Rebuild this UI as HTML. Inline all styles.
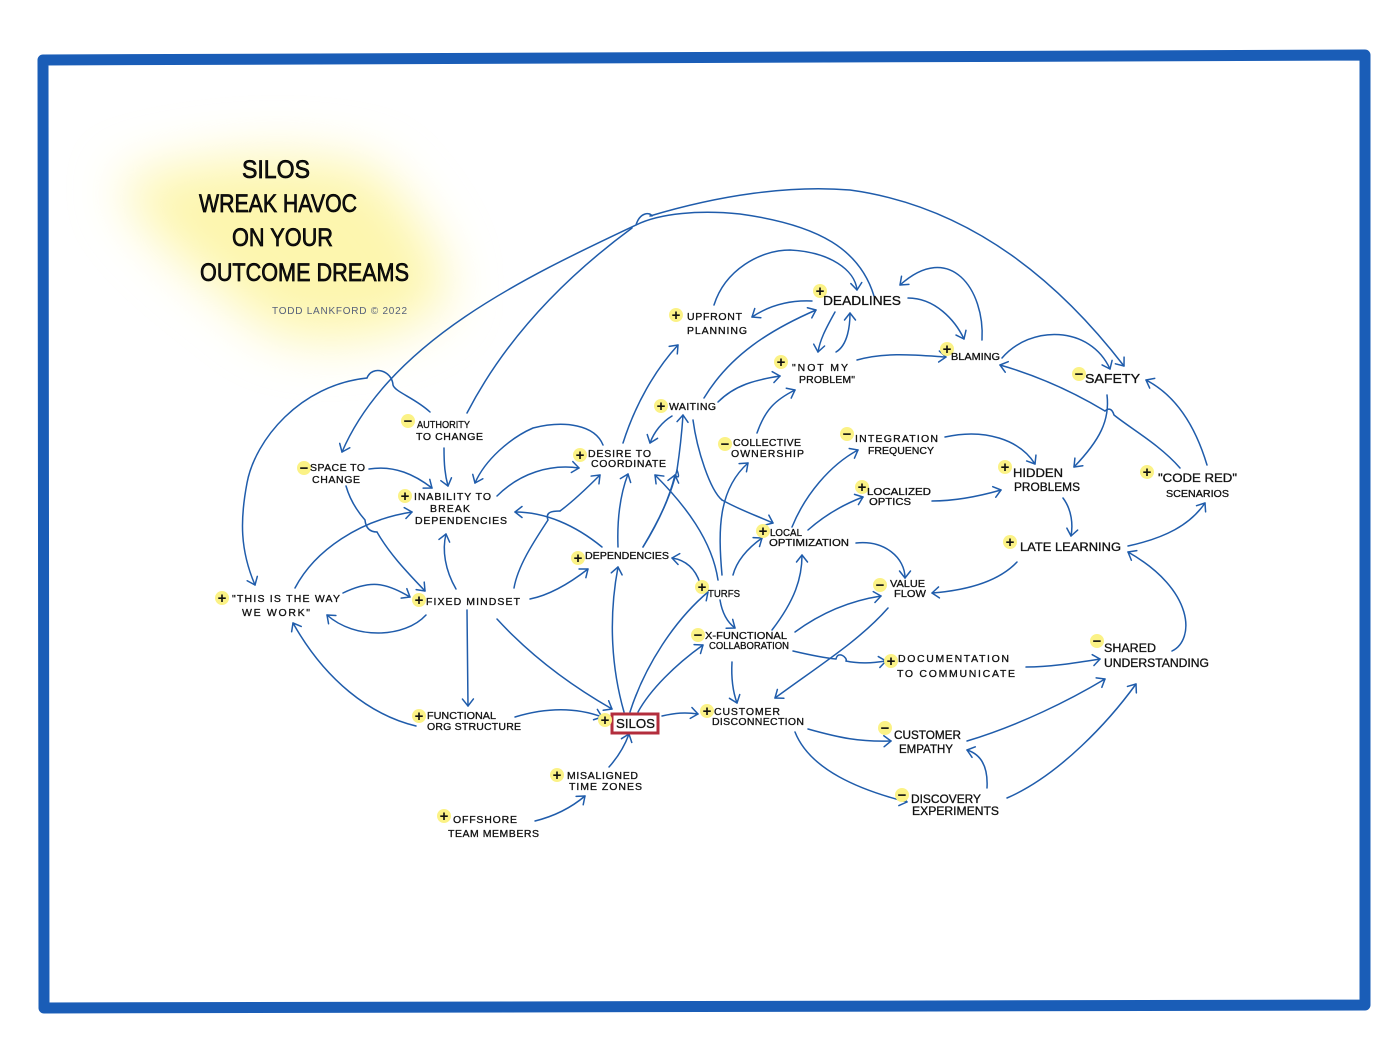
<!DOCTYPE html>
<html><head><meta charset="utf-8"><style>
html,body{margin:0;padding:0;background:#fff}
svg{display:block}
.e path{fill:none;stroke:#1f5cab;stroke-width:1.5;stroke-linecap:round;marker-end:url(#a)}
.h path{fill:none;stroke:#1f5cab;stroke-width:1.5;stroke-linecap:round}
text{font-family:"Liberation Sans",sans-serif;fill:#111}
.t text{font-size:10.5px;stroke:#111;stroke-width:.3}
.s text{font-size:15px;font-weight:bold;text-anchor:middle}
.g circle{fill:#fbf286}
.title text{font-size:25px;stroke:#000;stroke-width:.7}
</style></head><body>
<svg width="1400" height="1049" viewBox="0 0 1400 1049" xmlns="http://www.w3.org/2000/svg">
<defs>
<marker id="a" markerUnits="userSpaceOnUse" markerWidth="16" markerHeight="16" refX="12" refY="8" orient="auto"><path d="M5,2.5 L12,8 L5,13.5" fill="none" stroke="#1f5cab" stroke-width="1.5" stroke-linecap="round" stroke-linejoin="round"/></marker>
<filter id="b" x="-30%" y="-50%" width="160%" height="200%"><feGaussianBlur stdDeviation="26"/></filter>
</defs>
<rect width="1400" height="1049" fill="#fff"/>
<path d="M43,60 L1365,55 L1365,1005 L44,1008 Z" fill="#fff" stroke="#1a5db7" stroke-width="11" stroke-linejoin="round"/>
<g filter="url(#b)" fill="#fdf6ae">
<path d="M120,182 C180,160 300,145 375,170 C410,205 450,260 445,300 C410,340 320,350 270,330 C215,285 140,235 120,182 Z"/>
</g>
<g class="title">
<text x="242" y="178" textLength="68" lengthAdjust="spacingAndGlyphs">SILOS</text>
<text x="199" y="212" textLength="158" lengthAdjust="spacingAndGlyphs">WREAK HAVOC</text>
<text x="232" y="246" textLength="101" lengthAdjust="spacingAndGlyphs">ON YOUR</text>
<text x="200" y="281" textLength="209" lengthAdjust="spacingAndGlyphs">OUTCOME  DREAMS</text>
</g>
<text x="272" y="314" font-size="10" style="fill:#56607a" textLength="135" lengthAdjust="spacing">TODD LANKFORD © 2022</text>

<g class="e">
<path d="M874,296 C860,250 820,225 740,214 C700,210 660,213 636,225 C530,275 390,340 342,452"/>
<path d="M650,216 C720,195 790,185 850,190 C960,205 1050,270 1124,366"/>
<path d="M367,378 C300,385 255,440 247,483 C240,520 240,550 255,585"/>
<path d="M444,448 C444,465 445,475 448,486"/>
<path d="M369,469 C395,465 415,475 432,488"/>
<path d="M377,532 C390,555 410,575 425,591"/>
<path d="M295,588 C315,550 360,520 412,512"/>
<path d="M343,593 C370,580 385,582 410,597"/>
<path d="M426,615 C405,638 355,640 327,615"/>
<path d="M416,726 C370,715 325,680 293,623"/>
<path d="M456,589 C445,570 442,550 446,534"/>
<path d="M467,610 L468,706"/>
<path d="M497,619 C530,655 570,685 612,709"/>
<path d="M515,717 C545,708 575,707 602,717"/>
<path d="M560,511 C575,500 590,485 600,475"/>
<path d="M530,599 C550,595 570,583 588,569"/>
<path d="M497,496 C520,473 550,464 579,468"/>
<path d="M603,445 C595,425 565,420 533,428 C510,438 485,460 475,483"/>
<path d="M602,547 C575,525 545,512 515,512"/>
<path d="M624,712 C612,670 608,620 618,567"/>
<path d="M618,547 C617,520 620,495 628,474"/>
<path d="M643,547 C660,520 670,495 675,475"/>
<path d="M677,470 C680,450 682,430 683,415"/>
<path d="M623,443 C635,405 655,370 678,345"/>
<path d="M672,416 C662,422 654,432 650,443"/>
<path d="M718,580 C712,540 685,505 655,475"/>
<path d="M700,583 C695,568 685,560 672,558"/>
<path d="M630,712 C645,665 675,620 708,592"/>
<path d="M638,712 C650,690 675,665 703,645"/>
<path d="M662,716 C675,713 685,712 698,714"/>
<path d="M609,767 C618,757 625,745 629,734"/>
<path d="M535,821 C555,816 572,807 585,796"/>
<path d="M722,575 C718,530 718,490 748,463"/>
<path d="M733,575 C737,560 748,548 762,538"/>
<path d="M720,600 C722,612 727,622 735,628"/>
<path d="M772,630 C795,600 802,578 802,555"/>
<path d="M795,632 C825,610 855,600 881,596"/>
<path d="M846,661 C860,664 872,663 886,661"/>
<path d="M732,662 C731,680 733,692 737,703"/>
<path d="M888,608 C860,640 820,665 775,698"/>
<path d="M856,543 C885,540 905,558 905,578"/>
<path d="M1017,562 C1000,580 970,590 932,593"/>
<path d="M792,527 C805,495 830,465 858,450"/>
<path d="M808,530 C825,515 842,505 863,497"/>
<path d="M932,501 C955,501 980,496 1001,490"/>
<path d="M945,437 C985,428 1020,440 1035,464"/>
<path d="M1063,498 C1072,510 1073,525 1071,536"/>
<path d="M1128,546 C1165,538 1190,525 1205,503"/>
<path d="M1172,651 C1195,640 1195,590 1128,552"/>
<path d="M1207,465 C1195,425 1175,395 1146,380"/>
<path d="M1105,411 C1070,390 1035,375 1000,365"/>
<path d="M1107,395 C1110,420 1100,440 1074,467"/>
<path d="M1002,358 C1030,325 1090,325 1110,369"/>
<path d="M982,340 C985,290 950,240 900,285"/>
<path d="M908,298 C935,298 955,320 964,339"/>
<path d="M857,360 C885,352 915,355 946,357"/>
<path d="M835,312 C825,330 820,340 818,352"/>
<path d="M836,352 C848,345 850,325 850,313"/>
<path d="M812,301 C790,300 770,305 752,317"/>
<path d="M714,305 C725,270 760,250 790,250 C830,252 855,270 857,290"/>
<path d="M704,398 C730,355 770,330 816,310"/>
<path d="M718,402 C735,385 755,380 780,376"/>
<path d="M757,433 C765,410 775,400 795,390"/>
<path d="M722,500 C740,510 755,515 773,523"/>
<path d="M808,729 C840,738 860,742 891,741"/>
<path d="M795,732 C810,770 860,790 907,802"/>
<path d="M967,741 C1020,725 1070,700 1105,679"/>
<path d="M987,788 C988,770 983,755 967,750"/>
<path d="M1007,798 C1060,775 1110,720 1136,684"/>
<path d="M1026,667 C1050,667 1075,663 1100,659"/>
</g>
<g class="h">
<path d="M636,225 C640,212 650,212 652,216"/>
<path d="M467,413 C510,330 575,270 632,228"/>
<path d="M430,412 C415,398 395,392 393,385 C392,370 372,365 367,378"/>
<path d="M346,486 C350,500 358,512 365,520 C366,530 372,532 377,532"/>
<path d="M514,588 C518,565 535,540 548,520 C545,512 552,511 560,511"/>
<path d="M643,547 C665,510 672,490 677,470 C680,478 678,478 675,475"/>
<path d="M693,420 C697,450 710,490 722,500"/>
<path d="M793,651 C810,655 825,658 836,659 C838,650 848,658 846,661"/>
<path d="M1180,468 C1160,445 1130,428 1114,415 C1112,408 1108,408 1105,411"/>
</g>
<rect x="612" y="714" width="46" height="19" fill="#fff" stroke="#b32d3c" stroke-width="3"/>

<g class="g">
<circle cx="222" cy="598" r="7"/><circle cx="419" cy="600" r="7"/><circle cx="304" cy="468" r="7"/><circle cx="408" cy="421" r="7"/><circle cx="405" cy="496" r="7"/><circle cx="580" cy="455" r="7"/><circle cx="578" cy="558" r="7"/><circle cx="661" cy="406" r="7"/><circle cx="676" cy="315" r="7"/><circle cx="820" cy="291" r="7"/><circle cx="781" cy="362" r="7"/><circle cx="947" cy="349" r="7"/><circle cx="1079" cy="374" r="7"/><circle cx="725" cy="444" r="7"/><circle cx="847" cy="434" r="7"/><circle cx="862" cy="487" r="7"/><circle cx="763" cy="531" r="7"/><circle cx="1005" cy="467" r="7"/><circle cx="1147" cy="472" r="7"/><circle cx="1010" cy="542" r="7"/><circle cx="702" cy="587" r="7"/><circle cx="698" cy="635" r="7"/><circle cx="880" cy="585" r="7"/><circle cx="891" cy="661" r="7"/><circle cx="1097" cy="641" r="7"/><circle cx="707" cy="711" r="7"/><circle cx="605" cy="720" r="7"/><circle cx="419" cy="716" r="7"/><circle cx="557" cy="775" r="7"/><circle cx="444" cy="816" r="7"/><circle cx="885" cy="728" r="7"/><circle cx="902" cy="795" r="7"/>
</g>
<g class="s">
<text x="222" y="603">+</text><text x="419" y="605">+</text><text x="304" y="473">−</text><text x="408" y="426">−</text><text x="405" y="501">+</text><text x="580" y="460">+</text><text x="578" y="563">+</text><text x="661" y="411">+</text><text x="676" y="320">+</text><text x="820" y="296">+</text><text x="781" y="367">+</text><text x="947" y="354">+</text><text x="1079" y="379">−</text><text x="725" y="449">−</text><text x="847" y="439">−</text><text x="862" y="492">+</text><text x="763" y="536">+</text><text x="1005" y="472">+</text><text x="1147" y="477">+</text><text x="1010" y="547">+</text><text x="702" y="592">+</text><text x="698" y="640">−</text><text x="880" y="590">−</text><text x="891" y="666">+</text><text x="1097" y="646">−</text><text x="707" y="716">+</text><text x="605" y="725">+</text><text x="419" y="721">+</text><text x="557" y="780">+</text><text x="444" y="821">+</text><text x="885" y="733">−</text><text x="902" y="800">−</text>
</g>
<g class="t">
<text x="232" y="602" textLength="108" lengthAdjust="spacing">"THIS IS THE WAY</text>
<text x="242" y="616" textLength="68" lengthAdjust="spacing">WE WORK"</text>
<text x="426" y="605" textLength="94" lengthAdjust="spacing">FIXED MINDSET</text>
<text x="310" y="471" textLength="55" lengthAdjust="spacing">SPACE TO</text>
<text x="312" y="483" textLength="48" lengthAdjust="spacing">CHANGE</text>
<text x="417" y="428" textLength="53" lengthAdjust="spacingAndGlyphs">AUTHORITY</text>
<text x="416" y="440" textLength="67" lengthAdjust="spacing">TO CHANGE</text>
<text x="414" y="500" textLength="77" lengthAdjust="spacing">INABILITY TO</text>
<text x="430" y="512" textLength="40" lengthAdjust="spacing">BREAK</text>
<text x="415" y="524" textLength="92" lengthAdjust="spacing">DEPENDENCIES</text>
<text x="588" y="457" textLength="63" lengthAdjust="spacing">DESIRE TO</text>
<text x="591" y="467" textLength="75" lengthAdjust="spacing">COORDINATE</text>
<text x="585" y="559" textLength="84" lengthAdjust="spacingAndGlyphs">DEPENDENCIES</text>
<text x="669" y="410" textLength="47" lengthAdjust="spacing">WAITING</text>
<text x="687" y="320" textLength="55" lengthAdjust="spacing">UPFRONT</text>
<text x="687" y="334" textLength="60" lengthAdjust="spacing">PLANNING</text>
<text x="823" y="305" font-size="13" style="font-size:13px" textLength="78" lengthAdjust="spacingAndGlyphs">DEADLINES</text>
<text x="792" y="371" textLength="56" lengthAdjust="spacing">"NOT MY</text>
<text x="799" y="383" textLength="56" lengthAdjust="spacing">PROBLEM"</text>
<text x="951" y="360" textLength="49" lengthAdjust="spacingAndGlyphs">BLAMING</text>
<text x="1085" y="383" style="font-size:12.5px" textLength="55" lengthAdjust="spacingAndGlyphs">SAFETY</text>
<text x="733" y="446" textLength="68" lengthAdjust="spacing">COLLECTIVE</text>
<text x="731" y="457" textLength="73" lengthAdjust="spacing">OWNERSHIP</text>
<text x="855" y="442" textLength="83" lengthAdjust="spacing">INTEGRATION</text>
<text x="868" y="454" textLength="66" lengthAdjust="spacingAndGlyphs">FREQUENCY</text>
<text x="867" y="495" textLength="64" lengthAdjust="spacingAndGlyphs">LOCALIZED</text>
<text x="869" y="505" textLength="42" lengthAdjust="spacingAndGlyphs">OPTICS</text>
<text x="770" y="536" textLength="32" lengthAdjust="spacingAndGlyphs">LOCAL</text>
<text x="769" y="546" textLength="80" lengthAdjust="spacingAndGlyphs">OPTIMIZATION</text>
<text x="1013" y="477" style="font-size:12px" textLength="50" lengthAdjust="spacingAndGlyphs">HIDDEN</text>
<text x="1014" y="491" style="font-size:12px" textLength="66" lengthAdjust="spacingAndGlyphs">PROBLEMS</text>
<text x="1158" y="482" style="font-size:12px" textLength="79" lengthAdjust="spacingAndGlyphs">"CODE RED"</text>
<text x="1166" y="497" textLength="63" lengthAdjust="spacingAndGlyphs">SCENARIOS</text>
<text x="1020" y="551" style="font-size:12px" textLength="101" lengthAdjust="spacingAndGlyphs">LATE LEARNING</text>
<text x="708" y="597" textLength="32" lengthAdjust="spacingAndGlyphs">TURFS</text>
<text x="705" y="639" textLength="82" lengthAdjust="spacingAndGlyphs">X-FUNCTIONAL</text>
<text x="709" y="649" textLength="80" lengthAdjust="spacingAndGlyphs">COLLABORATION</text>
<text x="890" y="587" textLength="35" lengthAdjust="spacingAndGlyphs">VALUE</text>
<text x="894" y="597" textLength="32" lengthAdjust="spacingAndGlyphs">FLOW</text>
<text x="898" y="662" textLength="111" lengthAdjust="spacing">DOCUMENTATION</text>
<text x="897" y="677" textLength="118" lengthAdjust="spacing">TO COMMUNICATE</text>
<text x="1104" y="652" style="font-size:12px" textLength="52" lengthAdjust="spacingAndGlyphs">SHARED</text>
<text x="1104" y="667" style="font-size:12px" textLength="105" lengthAdjust="spacingAndGlyphs">UNDERSTANDING</text>
<text x="714" y="715" textLength="66" lengthAdjust="spacing">CUSTOMER</text>
<text x="712" y="725" textLength="92" lengthAdjust="spacing">DISCONNECTION</text>
<text x="616" y="728" style="font-size:13px" textLength="39" lengthAdjust="spacingAndGlyphs">SILOS</text>
<text x="427" y="719" textLength="69" lengthAdjust="spacingAndGlyphs">FUNCTIONAL</text>
<text x="427" y="730" textLength="94" lengthAdjust="spacing">ORG STRUCTURE</text>
<text x="567" y="779" textLength="71" lengthAdjust="spacing">MISALIGNED</text>
<text x="569" y="790" textLength="73" lengthAdjust="spacing">TIME ZONES</text>
<text x="453" y="823" textLength="64" lengthAdjust="spacing">OFFSHORE</text>
<text x="448" y="837" textLength="91" lengthAdjust="spacing">TEAM MEMBERS</text>
<text x="894" y="739" style="font-size:12px" textLength="67" lengthAdjust="spacingAndGlyphs">CUSTOMER</text>
<text x="899" y="753" style="font-size:12px" textLength="54" lengthAdjust="spacingAndGlyphs">EMPATHY</text>
<text x="911" y="803" style="font-size:12px" textLength="70" lengthAdjust="spacingAndGlyphs">DISCOVERY</text>
<text x="912" y="815" style="font-size:12px" textLength="87" lengthAdjust="spacingAndGlyphs">EXPERIMENTS</text>
</g>
</svg>
</body></html>
